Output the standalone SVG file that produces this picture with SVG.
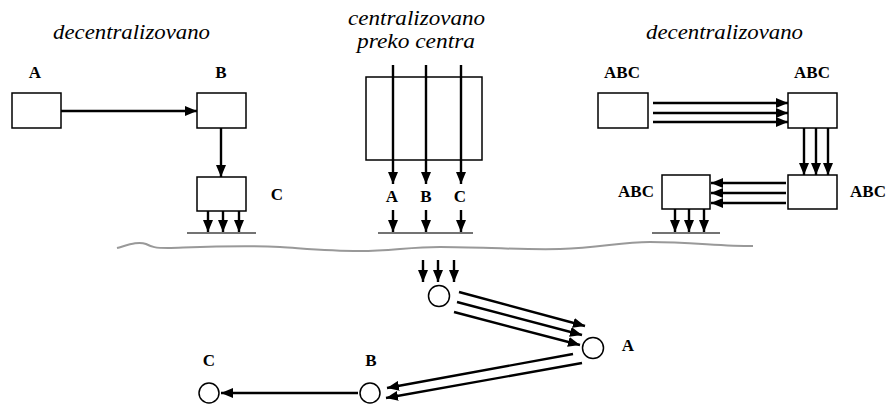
<svg xmlns="http://www.w3.org/2000/svg" width="887" height="405" viewBox="0 0 887 405">
<style>
.title{font-family:"Liberation Serif","Tinos","Times New Roman","DejaVu Serif",serif;font-style:italic;font-size:22px;fill:#000}
.lbl{font-family:"Liberation Serif","Tinos","Times New Roman","DejaVu Serif",serif;font-weight:bold;font-size:17px;fill:#000;text-anchor:middle}
.box{fill:#fff;stroke:#000;stroke-width:1.5}
.arr{stroke:#000;stroke-width:2.4;fill:none;marker-end:url(#ah)}
.base{stroke:#444;stroke-width:1.5}
.circ{fill:#fff;stroke:#000;stroke-width:1.5}
</style>
<defs>
<marker id="ah" markerUnits="userSpaceOnUse" markerWidth="12" markerHeight="10" refX="12" refY="5" orient="auto">
<path d="M0,0 L12,5 L0,10 z" fill="#000"/>
</marker>
</defs>
<rect width="887" height="405" fill="#fff"/>
<g id="titles">
<text class="title" x="53" y="39" textLength="157" lengthAdjust="spacingAndGlyphs">decentralizovano</text>
<text class="title" x="348" y="25" textLength="137" lengthAdjust="spacingAndGlyphs">centralizovano</text>
<text class="title" x="357" y="48" textLength="118" lengthAdjust="spacingAndGlyphs">preko centra</text>
<text class="title" x="646" y="39" textLength="157" lengthAdjust="spacingAndGlyphs">decentralizovano</text>
</g>
<g id="ground">
<path d="M117,248 C128,245 138,241 146,244 C152,247 155,248 168,248 C200,247 240,245 280,247 C310,249 330,251 360,251 C390,251 410,247 440,247 C480,247 520,250 560,249 C600,248 620,242 650,242 C690,242 720,246 753,246" fill="none" stroke="#999" stroke-width="2"/>
<line class="base" x1="187" y1="233" x2="256" y2="233"/>
<line class="base" x1="378" y1="233" x2="473" y2="233"/>
<line class="base" x1="652" y1="233" x2="720" y2="233"/>
</g>
<g id="nodeA">
<rect class="box" x="12" y="93" width="49" height="35"/>
<text class="lbl" x="35" y="78">A</text>
</g>
<g id="nodeB">
<rect class="box" x="197" y="93" width="49" height="35"/>
<text class="lbl" x="221" y="78">B</text>
</g>
<g id="nodeC">
<rect class="box" x="197" y="177" width="49" height="34"/>
<text class="lbl" x="277" y="200">C</text>
</g>
<g id="center">
<rect class="box" x="366" y="77" width="116" height="83"/>
</g>
<g id="centerLabels">
<text class="lbl" x="392" y="202">A</text>
<text class="lbl" x="426" y="202">B</text>
<text class="lbl" x="460" y="202">C</text>
</g>
<g id="abc1">
<rect class="box" x="598" y="93" width="50" height="35"/>
<text class="lbl" x="622" y="78">ABC</text>
</g>
<g id="abc2">
<rect class="box" x="788" y="93" width="49" height="35"/>
<text class="lbl" x="812" y="78">ABC</text>
</g>
<g id="abc3">
<rect class="box" x="788" y="175" width="49" height="34"/>
<text class="lbl" x="868" y="197">ABC</text>
</g>
<g id="abc4">
<rect class="box" x="662" y="175" width="48" height="34"/>
<text class="lbl" x="636" y="197">ABC</text>
</g>
<g id="circTop">
<circle class="circ" cx="439" cy="296" r="10.5"/>
</g>
<g id="circA">
<circle class="circ" cx="593" cy="348" r="10.5"/>
<text class="lbl" x="628" y="351">A</text>
</g>
<g id="circB">
<circle class="circ" cx="370" cy="393" r="10"/>
<text class="lbl" x="371" y="366">B</text>
</g>
<g id="circC">
<circle class="circ" cx="209" cy="393" r="10"/>
<text class="lbl" x="209" y="366">C</text>
</g>
<g id="connectors">
<line class="arr" x1="61" y1="111" x2="197" y2="111"/>
<line class="arr" x1="221" y1="128" x2="221" y2="177"/>
<line class="arr" x1="208" y1="211" x2="208" y2="232"/>
<line class="arr" x1="223" y1="211" x2="223" y2="232"/>
<line class="arr" x1="239" y1="211" x2="239" y2="232"/>

<line class="arr" x1="393" y1="65" x2="393" y2="184"/>
<line class="arr" x1="426" y1="65" x2="426" y2="184"/>
<line class="arr" x1="461" y1="65" x2="461" y2="184"/>
<line class="arr" x1="393" y1="210" x2="393" y2="232"/>
<line class="arr" x1="426" y1="210" x2="426" y2="232"/>
<line class="arr" x1="461" y1="210" x2="461" y2="232"/>

<line class="arr" x1="653" y1="103" x2="788" y2="103"/>
<line class="arr" x1="653" y1="113" x2="788" y2="113"/>
<line class="arr" x1="653" y1="122" x2="788" y2="122"/>
<line class="arr" x1="804" y1="128" x2="804" y2="175"/>
<line class="arr" x1="816" y1="128" x2="816" y2="175"/>
<line class="arr" x1="828" y1="128" x2="828" y2="175"/>
<line class="arr" x1="786" y1="183" x2="711" y2="183"/>
<line class="arr" x1="786" y1="193" x2="711" y2="193"/>
<line class="arr" x1="786" y1="203" x2="711" y2="203"/>
<line class="arr" x1="675" y1="209" x2="675" y2="232"/>
<line class="arr" x1="689" y1="209" x2="689" y2="232"/>
<line class="arr" x1="704" y1="209" x2="704" y2="232"/>

<line class="arr" x1="423" y1="260" x2="423" y2="282"/>
<line class="arr" x1="438" y1="260" x2="438" y2="282"/>
<line class="arr" x1="454" y1="260" x2="454" y2="282"/>
<line class="arr" x1="459" y1="292" x2="585" y2="326"/>
<line class="arr" x1="457" y1="302" x2="582" y2="335"/>
<line class="arr" x1="454" y1="312" x2="580" y2="345"/>
<line class="arr" x1="573" y1="354" x2="387" y2="388"/>
<line class="arr" x1="582" y1="363" x2="386" y2="398"/>
<line class="arr" x1="358" y1="393" x2="221" y2="393"/>
</g>
</svg>
